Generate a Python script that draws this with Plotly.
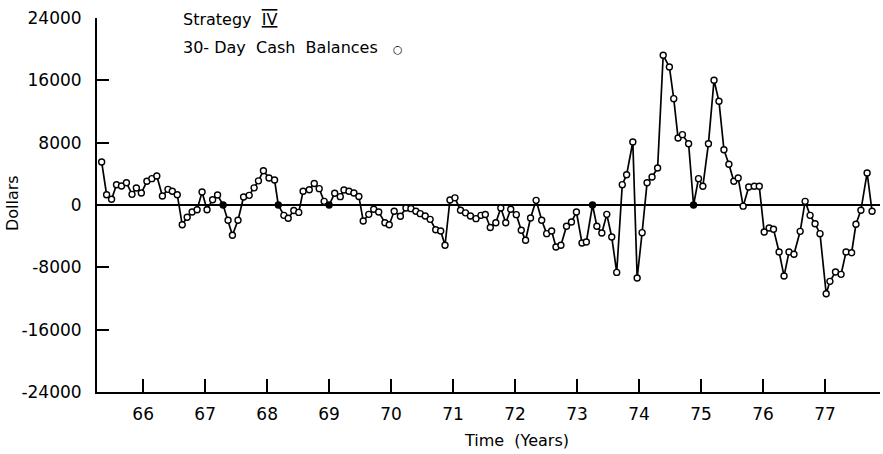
import plotly.graph_objects as go

# Time in years (19xx, two-digit) for each 30-day period
years = [
    65.33, 65.41, 65.49, 65.57, 65.65, 65.73, 65.82, 65.89, 65.97, 66.06,
    66.14, 66.22, 66.31, 66.40, 66.47, 66.55, 66.63, 66.71, 66.79, 66.87,
    66.95, 67.03, 67.12, 67.20, 67.29, 67.37, 67.44, 67.53, 67.62, 67.71,
    67.79, 67.86, 67.94, 68.03, 68.12, 68.18, 68.27, 68.34, 68.43, 68.51,
    68.58, 68.68, 68.76, 68.84, 68.92, 69.00, 69.09, 69.18, 69.24, 69.32,
    69.40, 69.48, 69.55, 69.64, 69.72, 69.80, 69.90, 69.97, 70.05, 70.15,
    70.24, 70.32, 70.40, 70.47, 70.55, 70.63, 70.72, 70.80, 70.87, 70.95,
    71.03, 71.12, 71.20, 71.28, 71.37, 71.45, 71.52, 71.60, 71.69, 71.77,
    71.85, 71.93, 72.02, 72.10, 72.17, 72.25, 72.34, 72.43, 72.51, 72.59,
    72.66, 72.74, 72.83, 72.91, 72.99, 73.08, 73.15, 73.25, 73.32, 73.40,
    73.48, 73.56, 73.64, 73.73, 73.80, 73.90, 73.97, 74.05, 74.13, 74.21,
    74.30, 74.39, 74.49, 74.56, 74.63, 74.70, 74.80, 74.88, 74.96, 75.03,
    75.12, 75.21, 75.29, 75.37, 75.45, 75.53, 75.60, 75.68, 75.77, 75.86,
    75.94, 76.02, 76.10, 76.17, 76.26, 76.34, 76.42, 76.50, 76.60, 76.68,
    76.76, 76.84, 76.92, 77.02, 77.08, 77.17, 77.26, 77.34, 77.43, 77.50,
    77.58, 77.68, 77.76,
]

# 30-day cash balances (dollars)
balances = [
    5520, 1320, 730, 2600, 2440, 2860, 1370, 2180, 1540, 3040,
    3380, 3720, 1160, 2010, 1760, 1320, -2530, -1580, -900, -600,
    1670, -600, 680, 1280, 0, -1960, -3890, -1960, 1030, 1240,
    2200, 3100, 4400, 3470, 3200, 0, -1330, -1700, -700, -950,
    1760, 1960, 2750, 2100, 470, 0, 1500, 1070, 1930, 1760,
    1540, 1100, -2050, -1200, -550, -900, -2270, -2530, -810, -1450,
    -385, -470, -810, -1110, -1410, -1840, -3170, -3340, -5170, 650,
    920, -680, -1010, -1410, -1750, -1330, -1220, -2880, -2270, -385,
    -2270, -555, -1240, -3250, -4530, -1670, 600, -1960, -3680, -3340,
    -5390, -5170, -2730, -2180, -900, -4880, -4750, 0, -2730, -3600,
    -1200, -4110, -8650, 2610, 3890, 8090, -9370, -3550, 2860, 3600,
    4750, 19220, 17720, 13650, 8600, 9030, 7870, 0, 3380, 2400,
    7870, 16010, 13310, 7100, 5230, 3040, 3470, -150, 2310, 2400,
    2400, -3470, -2950, -3120, -6030, -9120, -6030, -6330, -3380, 470,
    -1330, -2400, -3680, -11390, -9800, -8600, -8900, -6030, -6120, -2480,
    -680, 4110, -810,
]

x_tick_vals = [66, 67, 68, 69, 70, 71, 72, 73, 74, 75, 76, 77]
x_tick_text = ["66", "67", "68", "69", "70", "71", "72", "73", "74", "75", "76", "77"]
y_tick_vals = [-24000, -16000, -8000, 0, 8000, 16000, 24000]
y_tick_text = ["-24000", "-16000", "-8000", "0", "8000", "16000", "24000"]

FONT = "DejaVu Sans"
fill = ["black" if v == 0 else "white" for v in balances]

fig = go.Figure()
fig.add_trace(go.Scatter(
    x=years, y=balances, mode="lines+markers",
    line=dict(color="black", width=1.7),
    marker=dict(size=6, color=fill, line=dict(color="black", width=1.4)),
    showlegend=False, hoverinfo="x+y",
))

fig.update_layout(
    width=883, height=454,
    margin=dict(l=97, r=3, t=18, b=62),
    paper_bgcolor="white", plot_bgcolor="white",
    font=dict(family=FONT, color="black", size=16),
    xaxis=dict(
        range=[65.255, 77.888], tickmode="array",
        tickvals=x_tick_vals, ticktext=x_tick_text,
        ticks="inside", ticklen=13, tickwidth=1.5, tickcolor="black",
        showline=True, linecolor="black", linewidth=2,
        showgrid=False, zeroline=False,
        tickfont=dict(family=FONT, size=17), ticklabelstandoff=6,
    ),
    yaxis=dict(
        range=[-24000, 24000], tickmode="array",
        tickvals=y_tick_vals, ticktext=y_tick_text,
        ticks="inside", ticklen=12, tickwidth=1.5, tickcolor="black",
        showline=True, linecolor="black", linewidth=2,
        showgrid=False, zeroline=True, zerolinecolor="black", zerolinewidth=1.5,
        tickfont=dict(family=FONT, size=17), ticklabelstandoff=10,
    ),
    annotations=[
        dict(text="Time  (Years)", xref="paper", yref="paper", x=0.536, y=-0.131,
             xanchor="center", yanchor="middle", showarrow=False,
             font=dict(family=FONT, size=16)),
        dict(text="Dollars", xref="paper", yref="paper", x=-0.1086, y=0.505,
             xanchor="center", yanchor="middle", textangle=-90, showarrow=False,
             font=dict(family=FONT, size=16)),
        dict(text="Strategy  <span style='text-decoration:underline overline'>IV</span>",
             xref="paper", yref="paper", x=0.107, y=0.997,
             xanchor="left", yanchor="middle", showarrow=False,
             font=dict(family=FONT, size=16)),
        dict(text="30- Day  Cash  Balances   <span style='font-size:11px'>○</span>",
             xref="paper", yref="paper",
             x=0.107, y=0.922, xanchor="left", yanchor="middle", showarrow=False,
             font=dict(family=FONT, size=16)),
    ],
)

fig.write_html("out.html", config={"displayModeBar": False},
               post_script="document.body.style.margin='0';document.body.style.padding='0';")
